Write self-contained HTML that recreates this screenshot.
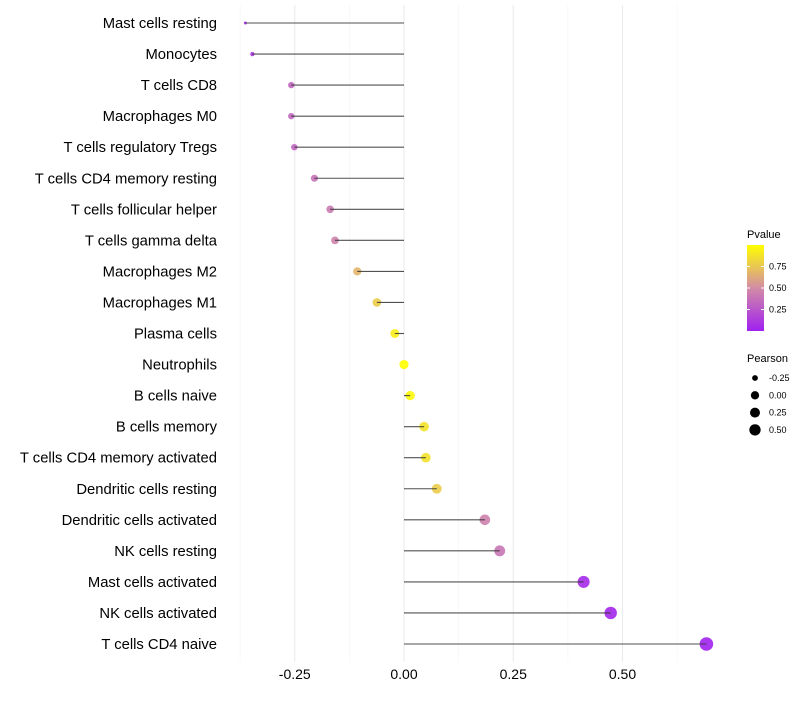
<!DOCTYPE html>
<html><head><meta charset="utf-8"><style>
body{margin:0;background:#fff;font-family:"Liberation Sans",sans-serif}
svg text{font-family:"Liberation Sans",sans-serif}
</style></head><body>
<svg id="chart" width="800" height="700" xmlns="http://www.w3.org/2000/svg"></svg>
<script>
const categories=["Mast cells resting","Monocytes","T cells CD8","Macrophages M0","T cells regulatory  Tregs ","T cells CD4 memory resting","T cells follicular helper","T cells gamma delta","Macrophages M2","Macrophages M1","Plasma cells","Neutrophils","B cells naive","B cells memory","T cells CD4 memory activated","Dendritic cells resting","Dendritic cells activated","NK cells resting","Mast cells activated","NK cells activated","T cells CD4 naive"];
const pearson=[-0.363,-0.347,-0.258,-0.258,-0.251,-0.205,-0.169,-0.158,-0.107,-0.062,-0.021,0.0,0.014,0.046,0.05,0.075,0.185,0.219,0.411,0.473,0.692];
const pvalues=[0.05,0.1,0.33,0.33,0.33,0.38,0.42,0.46,0.68,0.78,0.92,1.0,0.97,0.88,0.87,0.78,0.45,0.4,0.05,0.03,0.01];
const xTicks=[-0.25,0,0.25,0.5];
const xTickLabels=["-0.25","0.00","0.25","0.50"];
const xMinor=[-0.375,-0.125,0.125,0.375,0.625];
const legendP=[0.25,0.5,0.75];
const legendPearson=[-0.25,0,0.25,0.5];

const svg=document.getElementById('chart');
const NS="http://www.w3.org/2000/svg";
const x=v=>404+v*437;
const y=i=>23+i*31.05;
const rad=v=>1.5+5.3*Math.sqrt(Math.max(0,(v+0.363)/1.055));
function col(p){
  const stops=[[0,[160,32,240]],[0.5,[210,140,165]],[1,[255,255,0]]];
  let a=stops[0],b=stops[1];
  if(p>0.5){a=stops[1];b=stops[2];}
  const t=(p-a[0])/(b[0]-a[0]);
  const c=a[1].map((v,k)=>Math.round(v+(b[1][k]-v)*t));
  return `rgb(${c.join(',')})`;
}
function mk(tag,attrs){const e=document.createElementNS(NS,tag);for(const k in attrs)e.setAttribute(k,attrs[k]);svg.appendChild(e);return e;}
xMinor.forEach(v=>{const l=mk('line',{x1:x(v),x2:x(v),y1:5,y2:662,stroke:'#f2f2f2','stroke-width':0.6});

});
xTicks.forEach((v,i)=>{const l=mk('line',{x1:x(v),x2:x(v),y1:5,y2:662,stroke:'#ebebeb','stroke-width':1.1});


const t=mk('text',{x:x(v),y:679,'text-anchor':'middle','font-size':14,fill:'#000'});t.textContent=xTickLabels[i];

});
categories.forEach((c,i)=>{
  const t=mk('text',{x:217,y:y(i)+5,'text-anchor':'end','font-size':14.8,fill:'#000'});t.textContent=c;
  
  
  const d=mk('circle',{cx:x(pearson[i]),cy:y(i),r:rad(pearson[i]),fill:col(pvalues[i]),'fill-opacity':0.9});
  
  
  const l=mk('line',{x1:x(0),x2:x(pearson[i]),y1:y(i),y2:y(i),stroke:'#333','stroke-width':1.1,'stroke-opacity':0.85});
  
  
});
const lt=mk('text',{x:747,y:238,'font-size':11,fill:'#000'});lt.textContent='Pvalue';


const defs=mk('defs',{});
const g=document.createElementNS(NS,'linearGradient');g.setAttribute('id','pg');g.setAttribute('x1','0');g.setAttribute('y1','1');g.setAttribute('x2','0');g.setAttribute('y2','0');
[0,0.25,0.5,0.75,1].forEach(o=>{const s=document.createElementNS(NS,'stop');s.setAttribute('offset',o);s.setAttribute('stop-color',col(o));g.appendChild(s);});
defs.appendChild(g);
const bar=mk('rect',{x:747,y:245,width:17,height:86,fill:'url(#pg)'});


legendP.forEach(p=>{const yy=331-p*86/1.0;
 mk('line',{x1:747,x2:750,y1:yy,y2:yy,stroke:'#fff'});mk('line',{x1:761,x2:764,y1:yy,y2:yy,stroke:'#fff'});
 const t=mk('text',{x:769,y:yy+3,'font-size':9,fill:'#000'});t.textContent=p.toFixed(2);
 
 });
const st=mk('text',{x:747,y:362,'font-size':11,fill:'#000'});st.textContent='Pearson';


legendPearson.forEach((v,i)=>{const yy=378+i*17.3;
 const c=mk('circle',{cx:755,cy:yy,r:rad(v)*0.9,fill:'#000'});
 
 
 const t=mk('text',{x:769,y:yy+3,'font-size':9,fill:'#000'});t.textContent=v.toFixed(2);
 
 });
</script>
</body></html>
